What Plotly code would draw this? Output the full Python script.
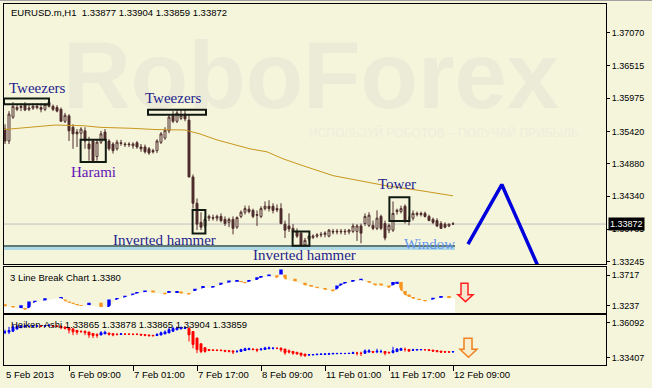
import plotly.graph_objects as go

W, H = 652, 388
BG = "#F5F5DC"
CANDLE = "#4F2D2D"
FONT = "Liberation Sans"
SERIF = "Liberation Serif"

# ---------------- data (hourly EURUSD candles, index 0 = 5 Feb 17:00) ----------------
opens = [1.3546,1.3526,1.3566,1.3579,1.3582,1.3586,1.3579,1.3581,1.3584,1.3582,
         1.3579,1.3591,1.3584,1.3582,1.3579,1.3559,1.3568,1.3549,1.3541,1.3539,
         1.3543,1.3521,1.3526,1.3500,1.3524,1.3541,1.3526,1.3521,1.3513,1.3523,
         1.3521,1.3521,1.3518,1.3523,1.3516,1.3516,1.3513,1.3510,1.3510,1.3524,
         1.3531,1.3543,1.3568,1.3559,1.3564,1.3571,1.3561,1.3466,1.3422,1.3390,
         1.3384,1.3397,1.3398,1.3397,1.3400,1.3395,1.3390,1.3395,1.3382,1.3400,
         1.3407,1.3412,1.3410,1.3403,1.3400,1.3413,1.3417,1.3417,1.3413,1.3413,
         1.3387,1.3384,1.3380,1.3375,1.3372,1.3352,1.3362,1.3365,1.3367,1.3369,
         1.3370,1.3367,1.3375,1.3374,1.3374,1.3374,1.3374,1.3375,1.3375,1.3384,
         1.3388,1.3385,1.3385,1.3380,1.3400,1.3388,1.3377,1.3377,1.3408,1.3408,
         1.3417,1.3393,1.3397,1.3403,1.3403,1.3405,1.3400,1.3395,1.3393,1.3388,
         1.3387,1.3384,1.33877]
highs = [1.3554,1.3576,1.3591,1.3586,1.3589,1.3591,1.3586,1.3589,1.3589,1.3589,
         1.3589,1.3596,1.3587,1.3586,1.3582,1.3573,1.3571,1.3554,1.3546,1.3549,
         1.3549,1.3533,1.3529,1.3528,1.3543,1.3546,1.3529,1.3524,1.3528,1.3528,
         1.3524,1.3524,1.3524,1.3526,1.3521,1.3520,1.3516,1.3513,1.3529,1.3541,
         1.3549,1.3571,1.3576,1.3579,1.3579,1.3578,1.3571,1.3470,1.3430,1.3407,
         1.3400,1.3403,1.3403,1.3403,1.3405,1.3400,1.3398,1.3400,1.3400,1.3410,
         1.3418,1.3418,1.3413,1.3410,1.3417,1.3425,1.3427,1.3422,1.3420,1.3422,
         1.3393,1.3405,1.3387,1.3380,1.3375,1.3364,1.3369,1.3370,1.3372,1.3374,
         1.3375,1.3379,1.3379,1.3379,1.3379,1.3379,1.3379,1.3388,1.3387,1.3388,
         1.3405,1.3407,1.3393,1.3410,1.3403,1.3393,1.3388,1.3425,1.3413,1.3418,
         1.3420,1.3400,1.3410,1.3408,1.3408,1.3408,1.3403,1.3398,1.3397,1.3392,
         1.3390,1.3388,1.33904]
lows = [1.3521,1.3521,1.3563,1.3576,1.3576,1.3576,1.3576,1.3578,1.3579,1.3574,
        1.3576,1.3582,1.3576,1.3574,1.3558,1.3556,1.3526,1.3513,1.3516,1.3529,
        1.3513,1.3493,1.3491,1.3493,1.3521,1.3526,1.3510,1.3505,1.3510,1.3518,
        1.3516,1.3516,1.3513,1.3513,1.3508,1.3505,1.3503,1.3505,1.3506,1.3521,
        1.3528,1.3539,1.3556,1.3556,1.3561,1.3559,1.3465,1.3413,1.3377,1.3377,
        1.3380,1.3392,1.3393,1.3392,1.3390,1.3384,1.3382,1.3370,1.3379,1.3397,
        1.3403,1.3405,1.3397,1.3384,1.3397,1.3410,1.3408,1.3405,1.3407,1.3387,
        1.3364,1.3374,1.3364,1.3364,1.3350,1.3350,1.3359,1.3362,1.3364,1.3365,
        1.3365,1.3365,1.3370,1.3370,1.3370,1.3369,1.3370,1.3372,1.3359,1.3355,
        1.3384,1.3382,1.3377,1.3377,1.3377,1.3360,1.3372,1.3374,1.3403,1.3405,
        1.3388,1.3385,1.3393,1.3400,1.3400,1.3398,1.3392,1.3387,1.3382,1.3379,
        1.3380,1.3382,1.33859]
closes = [1.3526,1.3571,1.3584,1.3582,1.3584,1.3578,1.3581,1.3584,1.3582,1.3579,
          1.3587,1.3584,1.3579,1.3576,1.3559,1.3569,1.3543,1.3538,1.3538,1.3546,
          1.3526,1.3513,1.3493,1.3524,1.3538,1.3529,1.3513,1.3510,1.3524,1.3522,
          1.3520,1.3520,1.3521,1.3516,1.3513,1.3508,1.3506,1.3508,1.3526,1.3538,
          1.3544,1.3566,1.3559,1.3573,1.3569,1.3563,1.3466,1.3422,1.3387,1.3382,
          1.3395,1.3400,1.3397,1.3400,1.3393,1.3388,1.3395,1.3380,1.3398,1.3407,
          1.3413,1.3408,1.3400,1.3402,1.3413,1.3417,1.3413,1.3410,1.3411,1.3388,
          1.3377,1.3379,1.3375,1.3367,1.3352,1.3360,1.3367,1.3367,1.3369,1.3370,
          1.3372,1.3377,1.3374,1.3375,1.3375,1.3375,1.3377,1.3384,1.3384,1.3372,
          1.3400,1.3402,1.3380,1.3397,1.3380,1.3364,1.3385,1.3405,1.3410,1.3413,
          1.3393,1.3392,1.3405,1.3405,1.3405,1.3400,1.3393,1.3390,1.3384,1.3380,
          1.3382,1.3387,1.33872]
bar_index = list(range(len(closes)))

# moving average
ma_idx = [-0.25, 3.75, 7, 12.5, 19.5, 23.75, 32, 37.5, 45, 48.75, 53, 57, 61.25,
          65.5, 69.5, 73.75, 82, 90.5, 95.5, 103.75, 112]
ma_price = [1.35452, 1.35472, 1.35489, 1.35527, 1.35516, 1.35489, 1.35472, 1.35452,
            1.35444, 1.35378, 1.35278, 1.35212, 1.35129, 1.35079, 1.34963, 1.34864,
            1.34681, 1.34573, 1.34510, 1.34432, 1.34344]

# price axis ticks
main_ticks = [1.37070, 1.36515, 1.35975, 1.35420, 1.34880, 1.34340, 1.33785, 1.33245]
last_price = 1.33872
lb_ticks = [1.3717, 1.3237]
ha_ticks = [1.36092, 1.33407]

# time axis
time_label_idx = [0, 16, 32, 48, 64, 80, 96, 112]
time_labels = ["5 Feb 2013", "6 Feb 09:00", "7 Feb 01:00", "7 Feb 17:00",
               "8 Feb 09:00", "11 Feb 01:00", "11 Feb 17:00", "12 Feb 09:00"]

# candlestick pattern boxes
box_x0 = [-0.25, 35.75, 18.9, 46.9, 71.9, 96.1]
box_x1 = [11, 50.25, 25.2, 50.1, 76.1, 101.1]
box_top = [1.35970, 1.35781, 1.35283, 1.34105, 1.33747, 1.34319]
box_bot = [1.35876, 1.35698, 1.34908, 1.33714, 1.33508, 1.33921]

pattern_text = ["Tweezers", "Tweezers", "Harami", "Inverted hammer",
                "Inverted hammer", "Tower", "Window"]
pattern_idx = [8.1, 42.1, 22, 39.9, 74.9, 98, 106]
pattern_price = [1.36141, 1.35983, 1.34739, 1.33598, 1.33349, 1.34548, 1.33536]
pattern_color = ["#1E1E8C", "#1E1E8C", "#6414B4", "#1E1E8C", "#1E1E8C", "#1E1E8C", "#6495ED"]

support_price = 1.33503
support_band = [1.33437, 1.33490]
support_end_idx = 112.5

# forecast zigzag
forecast_idx = [115.75, 124.2, 134]
forecast_price = [1.33536, 1.34532, 1.33054]

# 3 Line Break bricks
lb_idx = [0,2,4,5,6, 7.5,10,14,15,16, 17,18,19,21,24, 26,28,30,32,33,
          35,37,40,41,43, 44,46,47.5,49.5,52, 54,56,58,59,60, 61,63,64,66,68,
          69,70,72.5,75,76.5, 78,80,82,83,84, 85,87,89,91,92.5, 94,96,97,98,99,
          100,101,102,103.5,105, 107,109,111]
lb_hi = [1.3262,1.3226,1.3246,1.3200,1.3304, 1.3319,1.3355,1.3376,1.3339,1.3304,
         1.3288,1.3262,1.3252,1.3288,1.3288, 1.3339,1.3361,1.3397,1.3432,1.3454,
         1.3479,1.3479,1.3443,1.3463,1.3469, 1.3463,1.3432,1.3505,1.3547,1.3547,
         1.3598,1.3633,1.3633,1.3624,1.3609, 1.3640,1.3686,1.3702,1.3726,1.3717,
         1.3804,1.3722,1.3660,1.3598,1.3556, 1.3536,1.3516,1.3494,1.3556,1.3587,
         1.3609,1.3640,1.3660,1.3624,1.3587, 1.3587,1.3556,1.3609,1.3613,1.3609,
         1.3469,1.3417,1.3376,1.3350,1.3330, 1.3366,1.3392,1.3392]
lb_lo = [1.3226,1.3211,1.3200,1.3175,1.3200, 1.3299,1.3324,1.3361,1.3304,1.3283,
         1.3262,1.3246,1.3236,1.3246,1.3221, 1.3221,1.3339,1.3370,1.3407,1.3432,
         1.3454,1.3448,1.3417,1.3443,1.3443, 1.3432,1.3412,1.3469,1.3516,1.3521,
         1.3567,1.3602,1.3613,1.3609,1.3587, 1.3613,1.3640,1.3676,1.3702,1.3671,
         1.3726,1.3649,1.3618,1.3556,1.3536, 1.3516,1.3494,1.3463,1.3494,1.3556,
         1.3587,1.3613,1.3640,1.3598,1.3556, 1.3556,1.3516,1.3556,1.3587,1.3469,
         1.3401,1.3376,1.3350,1.3330,1.3304, 1.3339,1.3366,1.3355]
lb_up = [0,0,1,0,1, 1,1,1,0,0, 0,0,0,1,0, 1,1,1,1,1, 1,0,0,1,1, 0,0,1,1,1,
         1,1,1,0,0, 1,1,1,1,0, 1,0,0,0,0, 0,0,0,1,1, 1,1,1,0,0, 0,0,1,1,0,
         0,0,0,0,0, 1,1,0]

header = "EURUSD.m,H1\u00a0\u00a01.33877 1.33904 1.33859 1.33872"
lb_title = "3 Line Break Chart 1.3380"
ha_title = "Heiken-Ashi 1.33865 1.33878 1.33865 1.33904 1.33859"

# ---------------- Heiken-Ashi from the candles ----------------
ha_o, ha_c, ha_h, ha_l = [], [], [], []
for i in range(len(closes)):
    c = (opens[i] + highs[i] + lows[i] + closes[i]) / 4
    o = (opens[i] + closes[i]) / 2 if i == 0 else (ha_o[-1] + ha_c[-1]) / 2
    ha_o.append(o); ha_c.append(c)
    ha_h.append(max(highs[i], o, c)); ha_l.append(min(lows[i], o, c))


def fx(p):
    return p / W


def fy(p):
    return 1 - p / H


def path(points):
    return "M " + " L ".join(f"{fx(x):.5f},{fy(y):.5f}" for x, y in points) + " Z"


fig = go.Figure()

# watermark (first so everything draws over it)
fig.add_trace(go.Scatter(x=[76.5], y=[1.36207], mode="text", text=["RoboForex"],
                         textfont=dict(family=FONT, size=94, color="#EBEBD7", weight="bold"),
                         xaxis="x", yaxis="y", hoverinfo="skip", cliponaxis=False))
fig.add_trace(go.Scatter(x=[109.75], y=[1.35378], mode="text",
                         text=["ИСПОЛЬЗУЙ РОБОТОВ – ПОЛУЧАЙ ПРИБЫЛЬ"],
                         textfont=dict(family=FONT, size=12, color="#EEEEDA"),
                         xaxis="x", yaxis="y", hoverinfo="skip", cliponaxis=False))

fig.add_trace(go.Candlestick(x=bar_index, open=opens, high=highs, low=lows, close=closes,
                             xaxis="x", yaxis="y", whiskerwidth=0, hoverinfo="skip",
                             increasing=dict(line=dict(color=CANDLE, width=1), fillcolor=BG),
                             decreasing=dict(line=dict(color=CANDLE, width=1), fillcolor=CANDLE)))
fig.add_trace(go.Scatter(x=ma_idx, y=ma_price, mode="lines", xaxis="x", yaxis="y",
                         line=dict(color="#C8961E", width=1), hoverinfo="skip"))
fig.add_trace(go.Scatter(x=forecast_idx, y=forecast_price, mode="lines", xaxis="x", yaxis="y",
                         line=dict(color="#0000DD", width=3.5), hoverinfo="skip"))

# 3 line break panel
fig.add_trace(go.Scatter(x=[-0.25] + lb_idx + [support_end_idx],
                         y=[lb_lo[0]] + lb_lo + [lb_lo[-1]],
                         mode="lines", line=dict(width=0), fill="tozeroy", fillcolor="white",
                         xaxis="x2", yaxis="y2", hoverinfo="skip"))
fig.add_trace(go.Bar(x=lb_idx, y=[h - l for h, l in zip(lb_hi, lb_lo)], base=lb_lo,
                     width=0.85, marker=dict(color=["#0000FF" if u else "#F7941D" for u in lb_up],
                                             line=dict(width=0)),
                     xaxis="x2", yaxis="y2", hoverinfo="skip"))

# Heiken-Ashi panel
fig.add_trace(go.Candlestick(x=bar_index, open=ha_o, high=ha_h, low=ha_l, close=ha_c,
                             xaxis="x3", yaxis="y3", whiskerwidth=0, hoverinfo="skip",
                             increasing=dict(line=dict(color="#0000FF", width=1), fillcolor="#0000FF"),
                             decreasing=dict(line=dict(color="#FF0000", width=1), fillcolor="#FF0000")))

xr = [-0.25, 150.25]
xdom = [fx(4), fx(606)]


def xax(anchor, **kw):
    d = dict(range=xr, domain=xdom, anchor=anchor, showgrid=False, zeroline=False,
             showline=True, linecolor="black", linewidth=1, mirror=True,
             showticklabels=False, ticks="", fixedrange=True,
             rangeslider=dict(visible=False))
    d.update(kw)
    return d


def yax(anchor, dom, rng, vals, texts):
    return dict(domain=dom, range=rng, anchor=anchor, side="right", showgrid=False,
                zeroline=False, showline=True, linecolor="black", linewidth=1, mirror=True,
                tickvals=vals, ticktext=texts, ticks="outside", ticklen=3,
                tickcolor="black", tickfont=dict(family=FONT, size=9, color="black"),
                fixedrange=True)


shapes = []
# price line
shapes.append(dict(type="line", xref="x", yref="y", x0=xr[0], x1=xr[1], y0=last_price,
                   y1=last_price, line=dict(color="#C0C0C0", width=1), layer="below"))
# support line with light-blue band
shapes.append(dict(type="rect", xref="x", yref="y", x0=xr[0], x1=support_end_idx,
                   y0=support_band[0], y1=support_band[1], fillcolor="#ADD8E6",
                   line=dict(width=0), layer="below"))
shapes.append(dict(type="line", xref="x", yref="y", x0=xr[0], x1=support_end_idx,
                   y0=support_price, y1=support_price, line=dict(color="#2F4F4F", width=1.5),
                   layer="below"))
for x0, x1, t, b in zip(box_x0, box_x1, box_top, box_bot):
    shapes.append(dict(type="rect", xref="x", yref="y", x0=x0, x1=x1, y0=b, y1=t,
                       line=dict(color="#101A10", width=2)))
# signal arrows
shapes.append(dict(type="path", xref="paper", yref="paper",
                   path=path([(461, 285.5), (468, 285.5), (468, 297), (473, 297),
                              (465.5, 304), (458, 297), (461, 297)]),
                   line=dict(color="#FF2020", width=1.5), fillcolor="rgba(255,150,120,0.15)"))
shapes.append(dict(type="path", xref="paper", yref="paper",
                   path=path([(464, 341), (472, 341), (472, 352), (477, 352),
                              (468.5, 360), (460, 352), (464, 352)]),
                   line=dict(color="#F08020", width=1.5), fillcolor="rgba(255,200,120,0.15)"))
# window frame
shapes.append(dict(type="line", xref="paper", yref="paper", x0=0, x1=1, y0=fy(0.5), y1=fy(0.5),
                   line=dict(color="#A0A0A0", width=1)))

annotations = []
annotations.append(dict(xref="paper", yref="paper", x=fx(9), y=fy(12.7), xanchor="left",
                        yanchor="middle", text=header, showarrow=False,
                        font=dict(family=FONT, size=9.5, color="black")))
annotations.append(dict(xref="paper", yref="paper", x=fx(8), y=fy(280), xanchor="left",
                        yanchor="middle", text=lb_title, showarrow=False,
                        font=dict(family=FONT, size=9.5, color="black")))
annotations.append(dict(xref="paper", yref="paper", x=fx(9), y=fy(327.5), xanchor="left",
                        yanchor="middle", text=ha_title, showarrow=False,
                        font=dict(family=FONT, size=9.5, color="black")))
for t, xi, p, c in zip(pattern_text, pattern_idx, pattern_price, pattern_color):
    annotations.append(dict(xref="x", yref="y", x=xi, y=p, text=t, showarrow=False,
                            xanchor="center", yanchor="middle",
                            font=dict(family=SERIF, size=15, color=c)))
for xi, t in zip(time_label_idx, time_labels):
    annotations.append(dict(xref="x3", yref="paper", x=xi, y=fy(377.5), text=t,
                            showarrow=False, xanchor="left", yanchor="middle", xshift=-1,
                            font=dict(family=FONT, size=9.5, color="black")))
annotations.append(dict(xref="paper", yref="y", x=fx(608), y=last_price, text=f"{last_price:.5f}",
                        xanchor="left", yanchor="middle", showarrow=False, bgcolor="black",
                        borderpad=1, font=dict(family=FONT, size=9, color="white")))

fig.update_layout(
    width=W, height=H, margin=dict(l=0, r=0, t=0, b=0), autosize=False,
    paper_bgcolor=BG, plot_bgcolor=BG, showlegend=False, barmode="overlay",
    xaxis=xax("y"),
    xaxis2=xax("y2"),
    xaxis3=xax("y3", ticks="outside", tickvals=time_label_idx[1:], ticklen=5,
               tickcolor="black"),
    yaxis=yax("x", [fy(266), fy(4.5)], [1.33205, 1.37543], main_ticks,
              [f"{v:.5f}" for v in main_ticks]),
    yaxis2=yax("x2", [fy(315), fy(269)], [1.31333, 1.38455], lb_ticks,
               [f"{v:.4f}" for v in lb_ticks]),
    yaxis3=yax("x3", [fy(368), fy(317.5)], [1.32858, 1.36656], ha_ticks,
               [f"{v:.5f}" for v in ha_ticks]),
    shapes=shapes, annotations=annotations,
)

fig.write_html("out.html")
